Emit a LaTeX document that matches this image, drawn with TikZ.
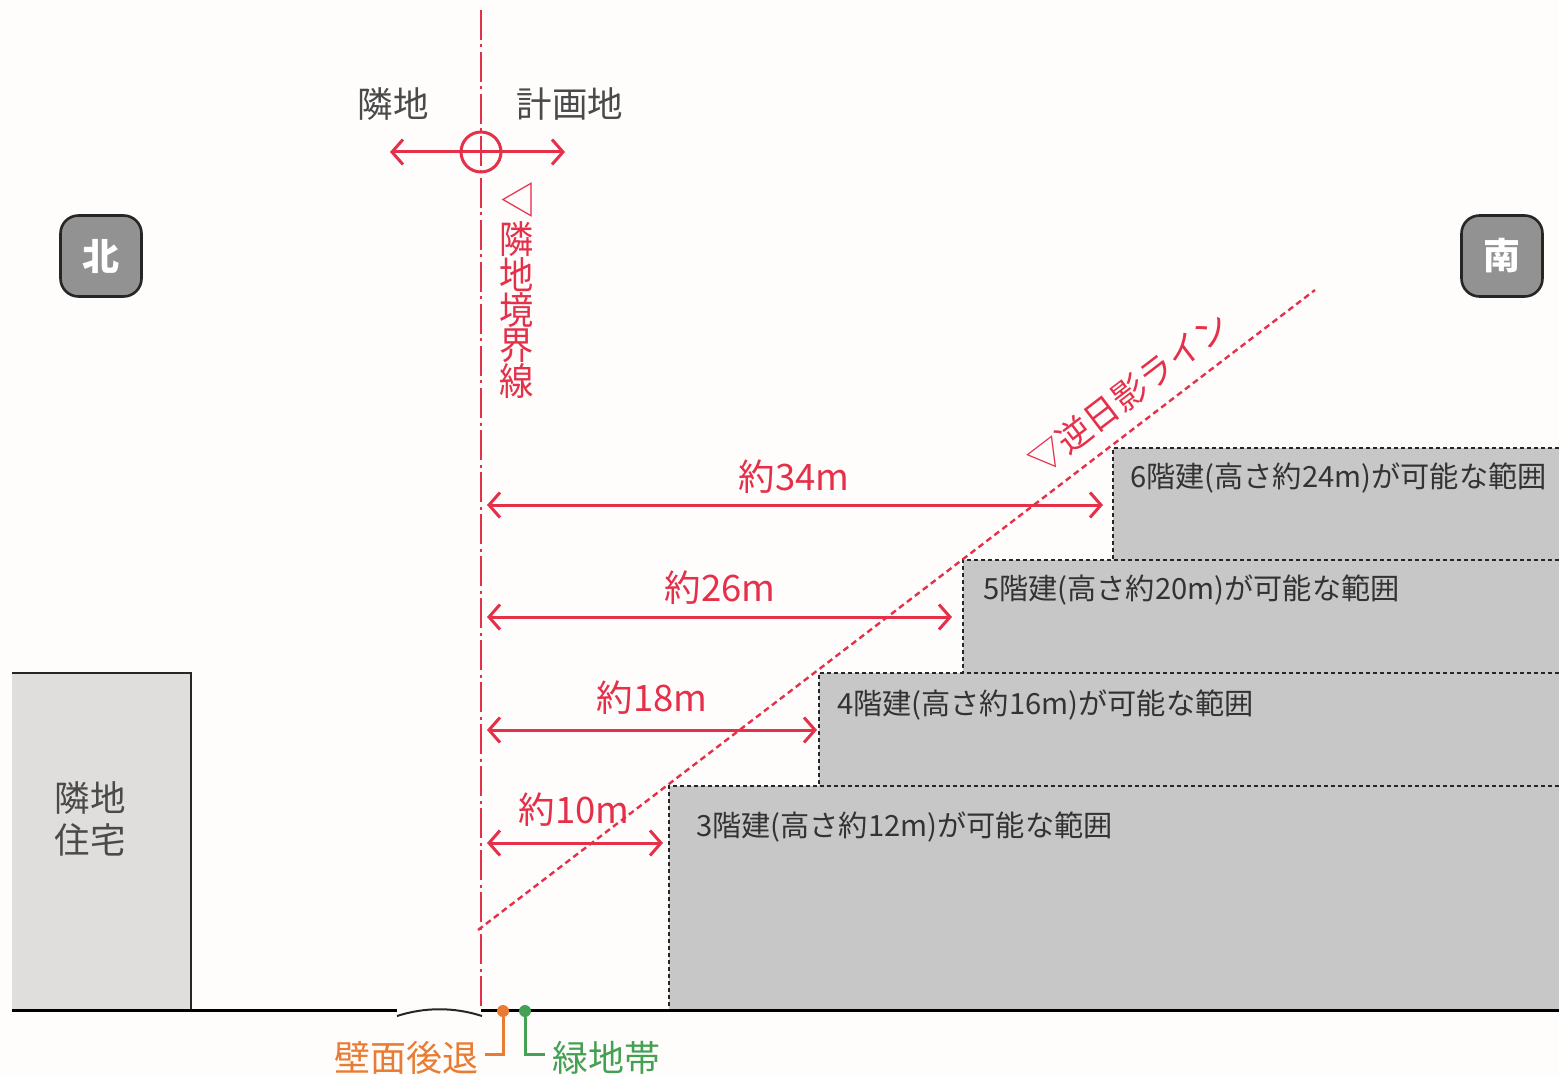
\documentclass[tikz,border=0pt]{standalone}
\usepackage{fontspec}
\setmainfont{Noto Sans CJK JP}
\usetikzlibrary{arrows.meta}
\definecolor{paper}{HTML}{FEFDFC}
\definecolor{linered}{HTML}{E5304A}
\definecolor{floorgray}{HTML}{C7C7C7}
\definecolor{housegray}{HTML}{DFDEDD}
\definecolor{signgray}{HTML}{929292}
\definecolor{inkgray}{HTML}{4A4A4A}
\definecolor{setback}{HTML}{E97B32}
\definecolor{greenbelt}{HTML}{44A052}
\tikzset{
    every node/.style={inner sep=0pt,outer sep=0pt},
    redarrow/.style={linered,line width=3pt,{Straight Barb[length=11pt,width=25pt,line width=3pt]}-{Straight Barb[length=11pt,width=25pt,line width=3pt]}},
    edgeline/.style={black!85,line width=2.6pt,dash pattern=on 4pt off 3pt},
    sign/.style={draw=black!85,line width=2.6pt,fill=signgray,rounded corners=18pt,minimum size=81pt,text=white,font=\fontsize{37}{40}\selectfont\bfseries},
    floortext/.style={text=black!80,anchor=west,font=\fontsize{29.2}{32}\selectfont},
    widthtext/.style={text=linered,font=\fontsize{36.5}{38}\selectfont},
    darktext/.style={text=inkgray,font=\fontsize{35.5}{38}\selectfont},
}
\begin{document}
\begin{tikzpicture}[x=1pt,y=-1pt]
        \useasboundingbox (0,0) rectangle (1559,1075);
        \fill[paper] (0,0) rectangle (1559,1075);
        % floors
        \fill[floorgray] (1113,448) rectangle (1559,560);
        \fill[floorgray] (963,560) rectangle (1559,673);
        \fill[floorgray] (819,673) rectangle (1559,786);
        \fill[floorgray] (669,786) rectangle (1559,1010);
        \draw[edgeline] (1559,448)--(1113,448)--(1113,560);
        \draw[edgeline] (1559,560)--(963,560)--(963,673);
        \draw[edgeline] (1559,673)--(819,673)--(819,786);
        \draw[edgeline] (1559,786)--(669,786)--(669,1010);
        \node[floortext] (six) at (1130,478) {6階建(高さ約24m)が可能な範囲};
        \node[floortext] (five) at (983,590) {5階建(高さ約20m)が可能な範囲};
        \node[floortext] (four) at (837,705) {4階建(高さ約16m)が可能な範囲};
        \node[floortext] (three) at (696,827) {3階建(高さ約12m)が可能な範囲};
        % neighbour house
        \fill[housegray] (12,1010)--(12,673)--(191,673)--(191,1010)--cycle;
        \draw[black!85,line width=2.6pt] (12,673)--(191,673)--(191,1010);
        \node[darktext,align=center] (house) at (90,819) {隣地\\[4pt]住宅};
        % ground
        \coordinate (gl) at (12,1010.5);
        \coordinate (ga) at (397,1010.5);
        \coordinate (ca) at (397,1016);
        \coordinate (cb) at (482,1016);
        \coordinate (gb) at (481,1010.5);
        \coordinate (gr) at (1559,1010.5);
        \draw[black,line width=2.6pt] (gl)--(ga);
        \draw[black,line width=2.6pt] (gb)--(gr);
        \draw[black!85,line width=2pt] (ca) .. controls (425,1007) and (454,1007) .. (cb);
        % boundary
        \coordinate (bt) at (481,10);
        \coordinate (bb) at (481,1010);
        \draw[linered,line width=2.2pt,dash pattern=on 30pt off 4.5pt on 3pt off 4.5pt] (bt)--(bb);
        \node[draw=linered,line width=3pt,circle,minimum size=40pt] (mark) at (481,152) {};
        \coordinate (nl) at (390,152);
        \coordinate (nr) at (565,152);
        \draw[redarrow] (nl)--(nr);
        \node[darktext] (rinchi) at (393,104) {隣地};
        \node[darktext] (keikaku) at (570,104) {計画地};
        \node[text=linered,rotate=-90,font=\fontsize{37}{38}\selectfont] (tria) at (517,200) {▽};
        \node[text=linered,align=center,anchor=north,xscale=0.9,transform shape,font=\fontsize{38}{35.3}\selectfont] (kyokai) at (517,222) {隣\\地\\境\\界\\線};
        % shadow line
        \coordinate (sa) at (478,930);
        \coordinate (sb) at (1315,290);
        \draw[linered,line width=2.4pt,dash pattern=on 6pt off 4pt] (sa)--(sb);
        \node[text=linered,rotate=37.4,font=\fontsize{34.5}{36}\selectfont] (gyaku) at (1129,393) {▽逆日影ライン};
        % widths
        \coordinate (wa) at (487,505);
        \coordinate (wb) at (1103,505);
        \coordinate (wc) at (487,617);
        \coordinate (wd) at (952,617);
        \coordinate (we) at (487,730);
        \coordinate (wf) at (817,730);
        \coordinate (wg) at (487,843);
        \coordinate (wh) at (663,843);
        \draw[redarrow] (wa)--(wb);
        \draw[redarrow] (wc)--(wd);
        \draw[redarrow] (we)--(wf);
        \draw[redarrow] (wg)--(wh);
        \node[widthtext] (w34) at (794,477) {約34m};
        \node[widthtext] (w26) at (720,588) {約26m};
        \node[widthtext] (w18) at (652,698) {約18m};
        \node[widthtext] (w10) at (574,810) {約10m};
        % signs
        \node[sign] (north) at (101,256) {北};
        \node[sign] (south) at (1502,256) {南};
        % setback and green belt
        \node[circle,fill=setback,minimum size=12pt] (sdot) at (503,1011) {};
        \node[circle,fill=greenbelt,minimum size=12pt] (gdot) at (525,1011) {};
        \node[text=setback,anchor=east,font=\fontsize{36}{38}\selectfont] (hekimen) at (478,1058) {壁面後退};
        \node[text=greenbelt,anchor=west,font=\fontsize{36}{38}\selectfont] (ryokuchi) at (552,1058) {緑地帯};
        \coordinate (sl) at (485,1054);
        \coordinate (gl2) at (545,1054);
        \draw[setback,line width=3pt] (sdot)|-(sl);
        \draw[greenbelt,line width=3pt] (gdot)|-(gl2);
\end{tikzpicture}
\end{document}
